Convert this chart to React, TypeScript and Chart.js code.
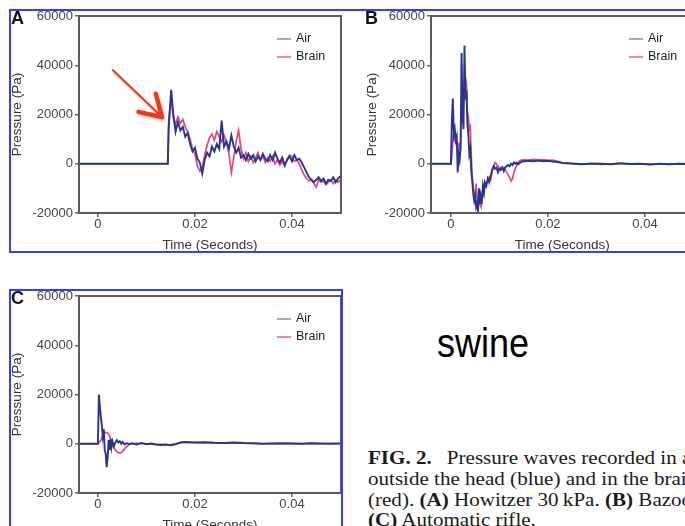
import React, { useEffect, useRef } from "react";
import { Chart, registerables } from "chart.js";

Chart.register(...registerables);

// ---------- data ----------
const seriesNames = ["Air", "Brain"];
const xTickValues = [0, 0.02, 0.04];
const yTickValues = [-20000, 0, 20000, 40000, 60000];

// Panel A: Howitzer
const timeA = [
  -0.004, 0.0144, 0.0146, 0.0151, 0.0155, 0.016, 0.0165, 0.017, 0.0175, 0.018,
  0.0185, 0.019, 0.0195, 0.02, 0.0205, 0.021, 0.0215, 0.022, 0.0225, 0.023,
  0.0235, 0.024, 0.0245, 0.025, 0.0255, 0.026, 0.0265, 0.027, 0.0275, 0.028,
  0.0285, 0.029, 0.0295, 0.03, 0.0305, 0.031, 0.0315, 0.032, 0.0325, 0.033,
  0.0335, 0.034, 0.0345, 0.035, 0.0355, 0.036, 0.0365, 0.037, 0.0375, 0.038,
  0.0385, 0.039, 0.0395, 0.04, 0.0405, 0.041, 0.0415, 0.042, 0.0425, 0.043,
  0.0435, 0.044, 0.0445, 0.045, 0.0455, 0.046, 0.0465, 0.047, 0.0475, 0.048,
  0.0485, 0.049, 0.0495, 0.05,
];
const airA = [
  0, 0, 15000, 30000, 21000, 13000, 17000, 13500, 15000, 11000,
  12500, 8000, 5000, 6500, 2000, 500, -4000, 1500, 4500, 3000,
  7000, 5000, 8000, 6000, 17500, 7000, 9000, 6000, 11500, 7000,
  4500, 6500, 2500, 3500, 1500, 4000, 2000, 3500, 1000, 3000,
  1500, 4000, 2000, 1000, 3500, 1500, 4500, 2000, 500, 2500,
  -500, 1500, 3000, 1000, 3500, 1500, 2000, 500, -1500, -3500,
  -5500, -6500, -7500, -6500, -5500, -7000, -6000, -8000, -6500, -7000,
  -5500, -7500, -6000, -5000,
];
const brainA = [
  0, 0, 18000, 27000, 19000, 16000, 19000, 16500, 18000, 15000,
  13000, 10000, 6000, 4000, -1000, -3000, -1500, 3500, 7500, 10500,
  12000, 9500, 13000, 11000, 9000, 11500, 9000, 4000, -3500, 2500,
  9000, 13500, 6000, 2000, 4500, 1000, 3000, 500, 2500, 4500,
  1500, 3000, 500, 2500, 1000, 3000, 0, 1500, -500, 1000,
  -1000, 2000, 3500, 3000, 1000, 1500, 0, -2500, -4500, -6000,
  -7000, -6500, -8000, -9500, -6500, -7500, -7000, -8500, -7500, -6500,
  -8000, -6500, -7500, -6500,
];

// Panel B: Bazooka
const timeB = [
  -0.0041, 0, 0.0002, 0.0004, 0.0006, 0.0008, 0.001, 0.0012, 0.0014, 0.0016,
  0.0018, 0.002, 0.0022, 0.0024, 0.0026, 0.0028, 0.003, 0.0032, 0.0034, 0.0036,
  0.0038, 0.004, 0.0042, 0.0044, 0.0046, 0.0048, 0.005, 0.0052, 0.0054, 0.0056,
  0.0058, 0.006, 0.0062, 0.0064, 0.0066, 0.0068, 0.007, 0.0073, 0.0076, 0.0079,
  0.0082, 0.0085, 0.0088, 0.0091, 0.0094, 0.0097, 0.01, 0.0103, 0.0106, 0.0109,
  0.0112, 0.0115, 0.0118, 0.0121, 0.0124, 0.0127, 0.013, 0.0133, 0.0136, 0.0139,
  0.0142, 0.0145, 0.015, 0.016, 0.017, 0.018, 0.019, 0.02, 0.021, 0.022,
  0.023, 0.025, 0.027, 0.029, 0.031, 0.033, 0.035, 0.037, 0.039, 0.041,
  0.043, 0.045, 0.047, 0.049, 0.05,
];
const airB = [
  0, 0, 18000, 26500, 12000, 14000, 9500, 11000, -3500, 4000,
  1500, 6000, 45000, 20000, 14000, 48000, 26000, 30000, 16000, 12000,
  4000, 6000, -3000, -7000, -12000, -15000, -13000, -17500, -16000, -19500,
  -10000, -16000, -13000, -14500, -9000, -11500, -7500, -9000, -6000, -7500,
  -5000, -2500, -1000, -2000, -1500, -3500, -2000, -2500, -1500, -3000,
  -1500, -1000, -500, -1000, 0, -500, 500, 0, 500, -200,
  300, 800, 1000, 1200, 1000, 1300, 1000, 1200, 900, 700,
  300, 100, -200, 100, 0, -200, 200, -100, 0, -300,
  0, -200, 0, -100, 0,
];
const brainB = [
  0, 0, 3000, 9000, 12500, 10000, 11500, 9000, 7500, 8000,
  6500, 9000, 25000, 18000, 24000, 30000, 35000, 33000, 21000, 19000,
  14000, 15000, 3000, -5500, -9000, -12000, -15500, -8000, -13000, -16000,
  -14000, -16500, -17500, -15000, -11000, -12500, -9500, -8000, -7000, -5500,
  -6500, -3000, -1500, 500, 0, -1000, -2500, -1500, -2000, -1500,
  -2500, -3500, -4500, -5500, -7000, -6000, -3500, -2000, -500, 500,
  1200, 1500, 1600, 1500, 1800, 1500, 1700, 1400, 1500, 1000,
  400, 0, -200, 0, -300, 0, 100, -200, 0, -100,
  -200, 0, -100, 0, 0,
];

// Panel C: Automatic rifle
const timeC = [
  -0.004, 0, 0.0002, 0.0004, 0.0006, 0.0008, 0.001, 0.0012, 0.0014, 0.0016,
  0.0018, 0.002, 0.0022, 0.0024, 0.0026, 0.0028, 0.003, 0.0033, 0.0036, 0.0039,
  0.0042, 0.0045, 0.0048, 0.0051, 0.0055, 0.006, 0.0065, 0.007, 0.008, 0.009,
  0.01, 0.011, 0.012, 0.013, 0.014, 0.015, 0.016, 0.017, 0.018, 0.02,
  0.022, 0.024, 0.026, 0.028, 0.03, 0.032, 0.034, 0.036, 0.038, 0.04,
  0.042, 0.044, 0.046, 0.048, 0.05,
];
const airC = [
  0, 0, 20000, 15000, 11000, 7500, 3000, 6000, -2500, -4000,
  -9500, -6000, 1500, -2500, 2000, -1500, 1000, -1000, 500, 1500,
  500, 1000, 0, 800, -300, 300, -200, 200, -300, 300,
  -200, 100, -300, -500, -300, -600, -200, 500, 700, 500,
  600, 400, 300, 500, 300, 200, 0, 100, 200, 100,
  0, 200, 100, 0, 100,
];
const brainC = [
  0, 0, 300, 800, 1500, 2500, 3500, 4000, 4500, 4600,
  4500, 4400, 4000, 3200, 2000, 500, -500, -1500, -2500, -3200,
  -3600, -3800, -3600, -3000, -2000, -1000, -300, 0, 200, 100,
  0, -200, -300, -200, -400, -300, 0, 400, 600, 500,
  400, 300, 200, 300, 200, 100, 0, 100, 0, 100,
  0, 100, 0, 100, 100,
];

// annotation arrow in panel A (data units: [time, pressure])
const arrowFromA = [0.0031, 38000];
const arrowToA = [0.0132, 19000];

// ---------- styling ----------
const SANS = "'Liberation Sans', Arial, Helvetica, sans-serif";
const SERIF = "'Liberation Serif', 'Times New Roman', serif";
const AIR_COLOR = "#27358e";
const BRAIN_COLOR = "#e3477c";
const AIR_LEGEND = "#7d8fcc";
const BRAIN_LEGEND = "#e8608e";
const BLUE_FRAME = "#3340f6";

const framePlugin = {
  id: "frame",
  afterDraw(chart: any) {
    const { ctx, chartArea: a } = chart;
    ctx.save();
    ctx.strokeStyle = "#5c5c5c";
    ctx.lineWidth = 2;
    ctx.strokeRect(a.left, a.top, a.right - a.left, a.bottom - a.top);
    ctx.restore();
  },
};

const legendPlugin = {
  id: "innerLegend",
  afterDraw(chart: any) {
    const { ctx, chartArea: a } = chart;
    const colors = [AIR_LEGEND, BRAIN_LEGEND];
    ctx.save();
    ctx.font = `12.5px ${SANS}`;
    ctx.textBaseline = "middle";
    seriesNames.forEach((name, i) => {
      const y = a.top + 23 + i * 18;
      ctx.strokeStyle = colors[i];
      ctx.lineWidth = 1.5;
      ctx.beginPath();
      ctx.moveTo(a.left + 198, y);
      ctx.lineTo(a.left + 212, y);
      ctx.stroke();
      ctx.fillStyle = "#222";
      ctx.fillText(name, a.left + 217, y);
    });
    ctx.restore();
  },
};

const arrowPlugin = {
  id: "arrow",
  afterDraw(chart: any, _args: any, opts: any) {
    if (!opts || !opts.from) return;
    const { ctx, scales } = chart;
    const x1 = scales.x.getPixelForValue(opts.from[0]);
    const y1 = scales.y.getPixelForValue(opts.from[1]);
    const x2 = scales.x.getPixelForValue(opts.to[0]);
    const y2 = scales.y.getPixelForValue(opts.to[1]);
    const ang = Math.atan2(y2 - y1, x2 - x1);
    const L = 24;
    const spread = 0.55;
    ctx.save();
    ctx.strokeStyle = "#f0391b";
    ctx.lineCap = "round";
    ctx.lineJoin = "round";
    ctx.shadowColor = "rgba(0,0,0,0.25)";
    ctx.shadowBlur = 3;
    ctx.shadowOffsetX = 1;
    ctx.shadowOffsetY = 2;
    ctx.lineWidth = 2;
    ctx.beginPath();
    ctx.moveTo(x1, y1);
    ctx.lineTo(x2, y2);
    ctx.stroke();
    ctx.lineWidth = 4.5;
    ctx.beginPath();
    ctx.moveTo(x2 - L * Math.cos(ang - spread), y2 - L * Math.sin(ang - spread));
    ctx.lineTo(x2, y2);
    ctx.lineTo(x2 - L * Math.cos(ang + spread), y2 - L * Math.sin(ang + spread));
    ctx.stroke();
    ctx.restore();
  },
};

type PanelProps = {
  left: number;
  top: number;
  width: number;
  height: number;
  time: number[];
  air: number[];
  brain: number[];
  xMin: number;
  xMax: number;
  yWidth: number;
  yTitlePad: number;
  padRight: number;
  arrow?: { from: number[]; to: number[] };
};

function Panel(p: PanelProps) {
  const ref = useRef<HTMLCanvasElement>(null);
  useEffect(() => {
    const chart = new Chart(ref.current as HTMLCanvasElement, {
      type: "line",
      data: {
        datasets: [
          {
            label: seriesNames[0],
            data: p.time.map((t, i) => ({ x: t, y: p.air[i] })),
            borderColor: AIR_COLOR,
            borderWidth: 1.9,
            pointRadius: 0,
            tension: 0,
          },
          {
            label: seriesNames[1],
            data: p.time.map((t, i) => ({ x: t, y: p.brain[i] })),
            borderColor: BRAIN_COLOR,
            borderWidth: 1.7,
            pointRadius: 0,
            tension: 0,
          },
        ],
      },
      options: {
        animation: false,
        responsive: false,
        events: [],
        layout: { padding: { left: 0, top: 16, right: p.padRight, bottom: 0 } },
        plugins: {
          legend: { display: false },
          tooltip: { enabled: false },
          arrow: p.arrow || {},
        } as any,
        scales: {
          x: {
            type: "linear",
            min: p.xMin,
            max: p.xMax,
            afterBuildTicks: (s: any) => {
              s.ticks = xTickValues.map((v) => ({ value: v }));
            },
            afterFit: (s: any) => {
              s.height = 42;
            },
            grid: { drawOnChartArea: false, drawTicks: true, tickLength: 4, color: "#666", lineWidth: 1.5 },
            border: { display: false },
            ticks: {
              font: { family: SANS, size: 13 },
              color: "#444",
              padding: 0,
              maxRotation: 0,
              autoSkip: false,
              callback: (v: any) => (Number(v) === 0 ? "0" : Number(v).toFixed(2)),
            },
            title: {
              display: true,
              text: "Time (Seconds)",
              font: { family: SANS, size: 13.5 },
              color: "#333",
              padding: { top: 4, bottom: 2 },
            },
          },
          y: {
            type: "linear",
            min: -20000,
            max: 60000,
            afterBuildTicks: (s: any) => {
              s.ticks = yTickValues.map((v) => ({ value: v }));
            },
            afterFit: (s: any) => {
              s.width = p.yWidth;
            },
            grid: { drawOnChartArea: false, drawTicks: true, tickLength: 4, color: "#666", lineWidth: 1.5 },
            border: { display: false },
            ticks: {
              font: { family: SANS, size: 13 },
              color: "#444",
              padding: 2,
              autoSkip: false,
              callback: (v: any) => String(v),
            },
            title: {
              display: true,
              text: "Pressure (Pa)",
              font: { family: SANS, size: 13.5 },
              color: "#333",
              padding: { top: p.yTitlePad, bottom: 0 },
            },
          },
        },
      } as any,
      plugins: [framePlugin, legendPlugin, arrowPlugin],
    });
    return () => chart.destroy();
  }, []);
  return (
    <canvas
      ref={ref}
      width={p.width}
      height={p.height}
      style={{ position: "absolute", left: p.left, top: p.top, width: p.width, height: p.height }}
    />
  );
}

const letterStyle: React.CSSProperties = {
  position: "absolute",
  fontFamily: SANS,
  fontWeight: "bold",
  fontSize: 18,
  lineHeight: "17px",
  color: "#111",
};

const capLine: React.CSSProperties = {
  position: "absolute",
  left: 368,
  whiteSpace: "nowrap",
  fontFamily: SERIF,
  fontSize: 19.5,
  lineHeight: "20.7px",
  color: "#1a1a1a",
  transform: "scaleX(1.08)",
  transformOrigin: "left top",
};

export default function App() {
  return (
    <div
      style={{
        position: "fixed",
        left: 0,
        top: 0,
        width: 685,
        height: 526,
        overflow: "hidden",
        background: "#fff",
      }}
    >
      <Panel
        left={0}
        top={0}
        width={345}
        height={255}
        time={timeA}
        air={airA}
        brain={brainA}
        xMin={-0.0039}
        xMax={0.0501}
        yWidth={79}
        yTitlePad={9}
        padRight={4}
        arrow={{ from: arrowFromA, to: arrowToA }}
      />
      <Panel
        left={345}
        top={0}
        width={352}
        height={255}
        time={timeB}
        air={airB}
        brain={brainB}
        xMin={-0.0041}
        xMax={0.05}
        yWidth={86}
        yTitlePad={19}
        padRight={3.5}
      />
      <Panel
        left={0}
        top={280}
        width={345}
        height={255}
        time={timeC}
        air={airC}
        brain={brainC}
        xMin={-0.0039}
        xMax={0.0501}
        yWidth={79}
        yTitlePad={9}
        padRight={4}
      />
      <div
        style={{
          position: "absolute",
          left: 9,
          top: 9,
          width: 800,
          height: 244,
          border: `2px solid ${BLUE_FRAME}`,
          boxSizing: "border-box",
        }}
      />
      <div
        style={{
          position: "absolute",
          left: 9,
          top: 289,
          width: 334,
          height: 300,
          border: `2px solid ${BLUE_FRAME}`,
          boxSizing: "border-box",
        }}
      />
      <div style={{ ...letterStyle, left: 11, top: 10 }}>A</div>
      <div style={{ ...letterStyle, left: 365, top: 10 }}>B</div>
      <div style={{ ...letterStyle, left: 11, top: 290 }}>C</div>
      <div
        style={{
          position: "absolute",
          left: 437,
          top: 323,
          fontFamily: SANS,
          fontSize: 40,
          lineHeight: "40px",
          color: "#000",
          transform: "scaleX(0.9)",
          transformOrigin: "left top",
        }}
      >
        swine
      </div>
      <div style={{ ...capLine, top: 448 }}>
        <span style={{ fontWeight: "bold", display: "inline-block", width: 73 }}>FIG. 2.</span>
        Pressure waves recorded in air
      </div>
      <div style={{ ...capLine, top: 469 }}>outside the head (blue) and in the brain</div>
      <div style={{ ...capLine, top: 489.5 }}>
        (red). <b>(A)</b> Howitzer 30{"\u2009"}kPa. <b>(B)</b> Bazooka.
      </div>
      <div style={{ ...capLine, top: 510 }}>
        <b>(C)</b> Automatic rifle.
      </div>
    </div>
  );
}
